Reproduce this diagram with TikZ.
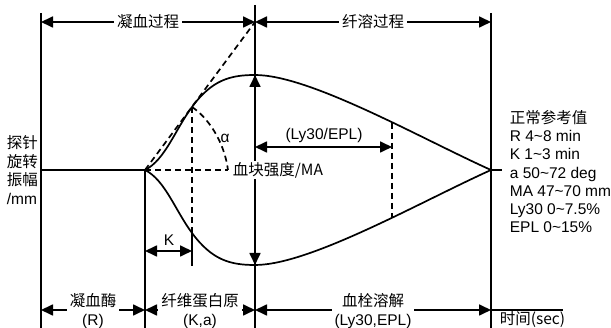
\documentclass[tikz,border=0pt]{standalone}
\usepackage{fontspec}
\setmainfont{Liberation Sans}
\newfontfamily\cjk{Noto Sans CJK SC}
\usetikzlibrary{arrows.meta}
\begin{document}
\begin{tikzpicture}[x=1pt,y=-1pt,line width=1.7pt,
  tip/.style={-{Triangle[length=12pt,width=11pt]}},
  dtip/.style={{Triangle[length=12pt,width=11pt]}-{Triangle[length=12pt,width=11pt]}},
  dsh/.style={dash pattern=on 6pt off 4pt},
  lbl/.style={fill=white,inner sep=3pt,font=\fontsize{15.5}{18.5}\selectfont,align=center},
  txt/.style={inner sep=0pt,font=\fontsize{15.5}{18.2}\selectfont}]
\useasboundingbox (0,0) rectangle (611,328);
% key points
\coordinate (L0) at (41,13);  \coordinate (L1) at (41,328);
\coordinate (B0) at (41,170); \coordinate (S) at (145,170); \coordinate (S1) at (145,328);
\coordinate (C0) at (255,5);  \coordinate (C1) at (255,328);
\coordinate (R0) at (491,13); \coordinate (R1) at (491,328);
\coordinate (E) at (491,170); \coordinate (Et) at (502,170);
\coordinate (pk) at (255,75); \coordinate (tr) at (255,265);
\coordinate (ip) at (192,107); \coordinate (ip2) at (192,233); \coordinate (kt) at (192,266);
\coordinate (T) at (255,22);  \coordinate (aE) at (228,170);
\coordinate (ly1) at (392,123); \coordinate (ly2) at (392,217);
% frame lines
\draw (L0) -- (L1);
\draw (S) -- (S1);
\draw (C0) -- (C1);
\draw (R0) -- (R1);
\draw (B0) -- (S);
\draw (E) -- (Et);
% curves
\draw (S) .. controls (165,160) and (175,130) .. (ip) .. controls (212,80) and (230,75) .. (pk) .. controls (310,75) and (420,138) .. (E);
\draw (S) .. controls (165,180) and (175,210) .. (ip2) .. controls (212,260) and (230,265) .. (tr) .. controls (310,265) and (420,202) .. (E);
% dashed constructions
\draw[dsh] (S) -- (T);
\draw[dsh] (S) -- (aE);
\draw[dsh] (ip) -- (ip2);
\draw (ip2) -- (kt);
\draw[dsh] (ip) .. controls (207,117) and (224,140) .. (aE);
\draw[dsh] (ly1) -- (ly2);
\node[txt] (alpha) at (225,138) {α};
% K arrow
\draw[dtip] (145,251) -- (192,251);
\node[txt] (K) at (169,240) {K};
% MA arrows
\draw[tip] (255,125) -- (pk);
\draw[tip] (255,215) -- (tr);
\node[lbl,anchor=west,inner sep=1pt] (ma) at (231,170) {\cjk{血块强度}/MA};
% Ly30 arrow
\draw[dtip] (255,147) -- (392,147);
\node[txt] (ly) at (324,135) {(Ly30/EPL)};
% top arrows
\draw[dtip] (41,22) -- (255,22) node[midway,lbl] (t1) {\cjk{凝血过程}};
\draw[dtip] (255,22) -- (491,22) node[midway,lbl] (t2) {\cjk{纤溶过程}};
% bottom arrows
\draw[dtip] (41,310) -- (145,310) node[midway,lbl,yshift=-1.2pt] (b1) {\cjk{凝血酶}\\(R)};
\draw[dtip] (145,310) -- (255,310) node[midway,lbl,yshift=-1.2pt] (b2) {\cjk{纤维蛋白原}\\(K,a)};
\draw[dtip] (255,310) -- (491,310) node[midway,lbl,yshift=-1.2pt] (b3) {\cjk{血栓溶解}\\(Ly30,EPL)};
\draw (491,310) -- (563,310);
\node[txt,anchor=base west] (time) at (499,325) {\cjk{时间}(sec)};
% left axis label
\node[txt,anchor=base west] (y1) at (6,149) {\cjk{探针}};
\node[txt,anchor=base west] (y2) at (6,167.5) {\cjk{旋转}};
\node[txt,anchor=base west] (y3) at (6,186) {\cjk{振幅}};
\node[txt,anchor=base west] (y4) at (6,204.5) {/mm};
% reference values
\node[txt,anchor=base west] (r1) at (509,123.5) {\cjk{正常参考值}};
\node[txt,anchor=base west] (r2) at (509,141.7) {R 4\textasciitilde8 min};
\node[txt,anchor=base west] (r3) at (509,159.9) {K 1\textasciitilde3 min};
\node[txt,anchor=base west] (r4) at (509,178.1) {a 50\textasciitilde72 deg};
\node[txt,anchor=base west] (r5) at (509,196.3) {MA 47\textasciitilde70 mm};
\node[txt,anchor=base west] (r6) at (509,214.5) {Ly30 0\textasciitilde7.5\%};
\node[txt,anchor=base west] (r7) at (509,232.7) {EPL 0\textasciitilde15\%};
\end{tikzpicture}
\end{document}
